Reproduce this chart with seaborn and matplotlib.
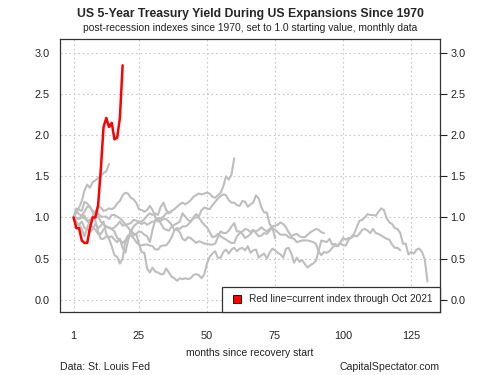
import pandas as pd
import numpy as np
import matplotlib
matplotlib.use("Agg")
import matplotlib.pyplot as plt
import seaborn as sns
from matplotlib.lines import Line2D

# Index values (start = 1.0)
exp_1970 = [1.00, 0.92, 0.91, 0.86, 0.77, 0.87, 0.97, 1.01, 1.06, 1.01, 0.95, 0.92,
            0.89, 0.88, 0.86, 0.88, 0.91, 0.95, 0.90, 0.91, 0.92, 0.93, 0.97, 0.96,
            0.95, 0.95, 0.98, 1.02, 1.05, 1.03, 1.05, 1.03, 1.13, 1.18, 1.09, 1.05, 1.07]
exp_1975 = [1.00, 1.08, 1.04, 1.02, 1.07, 1.13, 1.13, 1.08, 1.06, 1.05, 1.01, 1.01,
            1.01, 0.98, 1.03, 1.03, 1.01, 0.99, 0.96, 0.91, 0.88, 0.83, 0.89, 0.92,
            0.94, 0.92, 0.94, 0.91, 0.93, 0.95, 0.95, 0.99, 0.99, 1.01, 1.05, 1.06,
            1.08, 1.10, 1.13, 1.16, 1.18, 1.16, 1.18, 1.21, 1.25, 1.27, 1.29, 1.28,
            1.29, 1.30, 1.29, 1.25, 1.24, 1.27, 1.30, 1.38, 1.50, 1.46, 1.52, 1.72]
exp_1980 = [1.00, 1.06, 1.12, 1.20, 1.33, 1.40, 1.36, 1.43, 1.45, 1.48, 1.50, 1.54,
            1.56, 1.65]
exp_1982 = [1.00, 1.00, 0.98, 1.00, 0.99, 0.96, 0.97, 1.00, 1.07, 1.13, 1.12, 1.08,
            1.09, 1.11, 1.10, 1.12, 1.17, 1.20, 1.27, 1.30, 1.29, 1.24, 1.22, 1.18,
            1.10, 1.09, 1.07, 1.09, 1.14, 1.09, 1.01, 0.95, 0.96, 0.98, 0.98, 0.95,
            0.91, 0.85, 0.85, 0.82, 0.74, 0.72, 0.76, 0.75, 0.72, 0.69, 0.71, 0.70,
            0.68, 0.68, 0.67, 0.67, 0.68, 0.76, 0.83, 0.81, 0.81, 0.84, 0.89, 0.93,
            0.83, 0.83, 0.80, 0.75, 0.77, 0.80, 0.84, 0.83, 0.85, 0.88, 0.85, 0.83,
            0.86, 0.89, 0.90, 0.91, 0.94, 0.92, 0.88, 0.82, 0.77, 0.79, 0.80, 0.77,
            0.76, 0.76, 0.79, 0.82, 0.84, 0.86, 0.85, 0.82, 0.81]
exp_1991 = [1.00, 0.99, 0.99, 1.02, 1.02, 0.96, 0.92, 0.88, 0.85, 0.80, 0.80, 0.85,
            0.89, 0.87, 0.86, 0.83, 0.75, 0.72, 0.69, 0.72, 0.78, 0.78, 0.75, 0.70,
            0.67, 0.66, 0.67, 0.67, 0.66, 0.65, 0.61, 0.61, 0.65, 0.66, 0.66, 0.70,
            0.76, 0.84, 0.87, 0.86, 0.89, 0.89, 0.91, 0.95, 0.99, 1.00, 1.00, 0.95,
            0.91, 0.88, 0.82, 0.76, 0.77, 0.80, 0.77, 0.75, 0.73, 0.71, 0.69, 0.69,
            0.77, 0.81, 0.83, 0.86, 0.85, 0.82, 0.85, 0.81, 0.77, 0.78, 0.81, 0.80,
            0.84, 0.87, 0.85, 0.82, 0.79, 0.79, 0.79, 0.76, 0.75, 0.74, 0.70, 0.71,
            0.72, 0.72, 0.72, 0.71, 0.70, 0.68, 0.59, 0.54, 0.58, 0.57, 0.59, 0.63,
            0.66, 0.65, 0.70, 0.75, 0.73, 0.75, 0.75, 0.78, 0.77, 0.80, 0.85, 0.86,
            0.84, 0.81, 0.86, 0.81, 0.80, 0.78, 0.76, 0.74, 0.73, 0.67, 0.63, 0.63, 0.60]
exp_2001 = [1.00, 1.11, 1.09, 1.08, 1.19, 1.17, 1.13, 1.06, 0.96, 0.83, 0.74, 0.74,
            0.77, 0.76, 0.77, 0.73, 0.70, 0.74, 0.63, 0.57, 0.72, 0.85, 0.80, 0.80,
            0.83, 0.82, 0.79, 0.77, 0.70, 0.85, 0.97, 0.99, 0.93, 0.87, 0.85, 0.84,
            0.89, 0.91, 0.93, 0.95, 1.05, 1.01, 0.97, 0.95, 1.00, 1.04, 1.01, 1.09,
            1.12, 1.11, 1.10, 1.15, 1.19, 1.23, 1.26, 1.28, 1.27, 1.21, 1.18, 1.18,
            1.15, 1.14, 1.20, 1.19, 1.13, 1.16, 1.18, 1.27, 1.23, 1.12, 1.06, 1.06,
            0.92, 0.88, 0.75]
exp_2009 = [1.00, 0.95, 0.91, 0.95, 0.87, 0.86, 0.82, 0.86, 0.92, 0.87, 0.90, 0.95,
            0.80, 0.74, 0.65, 0.54, 0.52, 0.44, 0.50, 0.71, 0.73, 0.83, 0.78, 0.80,
            0.68, 0.58, 0.57, 0.38, 0.33, 0.39, 0.34, 0.33, 0.31, 0.31, 0.38, 0.33,
            0.28, 0.26, 0.23, 0.26, 0.25, 0.26, 0.25, 0.26, 0.30, 0.31, 0.30, 0.26,
            0.31, 0.44, 0.52, 0.56, 0.59, 0.51, 0.51, 0.58, 0.61, 0.56, 0.61, 0.63,
            0.59, 0.62, 0.63, 0.60, 0.65, 0.57, 0.60, 0.61, 0.51, 0.54, 0.56, 0.50,
            0.57, 0.62, 0.60, 0.57, 0.55, 0.51, 0.62, 0.63, 0.56, 0.45, 0.51, 0.46,
            0.48, 0.43, 0.39, 0.42, 0.44, 0.47, 0.59, 0.72, 0.71, 0.70, 0.74, 0.67,
            0.68, 0.65, 0.69, 0.66, 0.66, 0.73, 0.76, 0.80, 0.88, 0.96, 0.97, 1.00,
            1.04, 1.03, 1.03, 1.02, 1.07, 1.11, 1.09, 0.99, 0.94, 0.92, 0.87, 0.86,
            0.81, 0.68, 0.68, 0.55, 0.58, 0.56, 0.61, 0.62, 0.58, 0.49, 0.22]
current = [1.00, 0.87, 0.87, 0.72, 0.69, 0.69, 0.87, 1.00, 1.00, 1.15, 1.59, 2.10,
           2.21, 2.10, 2.15, 1.95, 1.97, 2.21, 2.85]

past = {"1970": exp_1970, "1975": exp_1975, "1980": exp_1980, "1982": exp_1982,
        "1991": exp_1991, "2001": exp_2001, "2009": exp_2009}

x_ticks = [1, 25, 50, 75, 100, 125]
y_ticks = [0.0, 0.5, 1.0, 1.5, 2.0, 2.5, 3.0]

rows = []
for name, vals in past.items():
    for i, v in enumerate(vals):
        rows.append({"cycle": name, "month": i + 1, "index": v})
df = pd.DataFrame(rows)
cur = pd.DataFrame({"month": np.arange(1, len(current) + 1), "index": current})

sns.set_style("white")
plt.rcParams["font.family"] = ["Liberation Sans", "DejaVu Sans"]

fig = plt.figure(figsize=(5, 3.75), dpi=100)
ax = fig.add_axes([0.12, 0.168, 0.76, 0.728])

ax.grid(True, color="#c8c8c8", linestyle=(0, (1.5, 2.5)), linewidth=0.8)
ax.set_axisbelow(True)

sns.lineplot(data=df, x="month", y="index", hue="cycle",
             palette={k: "#bebebe" for k in past}, linewidth=1.5,
             legend=False, ax=ax, sort=False)
sns.lineplot(data=cur, x="month", y="index", color="#ff0000",
             linewidth=1.8, ax=ax)

ax.set_xlim(-4.0, 135.6)
ax.set_ylim(-0.15, 3.17)
ax.set_xticks(x_ticks)
ax.set_yticks(y_ticks)
ax.set_yticklabels([f"{t:.1f}" for t in y_ticks])
ax.tick_params(axis="x", direction="out", length=5, width=0.8, pad=9,
               labelsize=7.8, colors="#222222")
ax.tick_params(axis="y", direction="out", length=5, width=0.8, pad=2.5,
               labelsize=7.8, colors="#222222", right=True, labelright=True)
for s in ax.spines.values():
    s.set_visible(True)
    s.set_color("#333333")
    s.set_linewidth(0.9)
ax.set_xlabel("")
ax.set_ylabel("")

handle = Line2D([], [], marker="s", markersize=5.5, markerfacecolor="#ff0000",
                markeredgecolor="black", markeredgewidth=0.6, linestyle="none")
leg = ax.legend([handle], ["Red line=current index through Oct 2021"],
                loc="lower right", borderaxespad=0, fancybox=False,
                framealpha=1, edgecolor="#333333", fontsize=7.3,
                handletextpad=0.5, borderpad=0.75, handlelength=1.4)
leg.get_frame().set_linewidth(0.9)

fig.text(0.5, 0.962, "US 5-Year Treasury Yield During US Expansions Since 1970",
         ha="center", va="center", fontsize=8.8, fontweight="bold")
fig.text(0.5, 0.925, "post-recession indexes since 1970, set to 1.0 starting value, monthly data",
         ha="center", va="center", fontsize=7.4, color="#222222")
fig.text(0.5, 0.058, "months since recovery start", ha="center", va="center",
         fontsize=7.5, color="#222222")
fig.text(0.12, 0.02, "Data: St. Louis Fed", ha="left", va="center", fontsize=7.6)
fig.text(0.88, 0.02, "CapitalSpectator.com", ha="right", va="center", fontsize=7.6)

fig.savefig("out.png", dpi=100)
